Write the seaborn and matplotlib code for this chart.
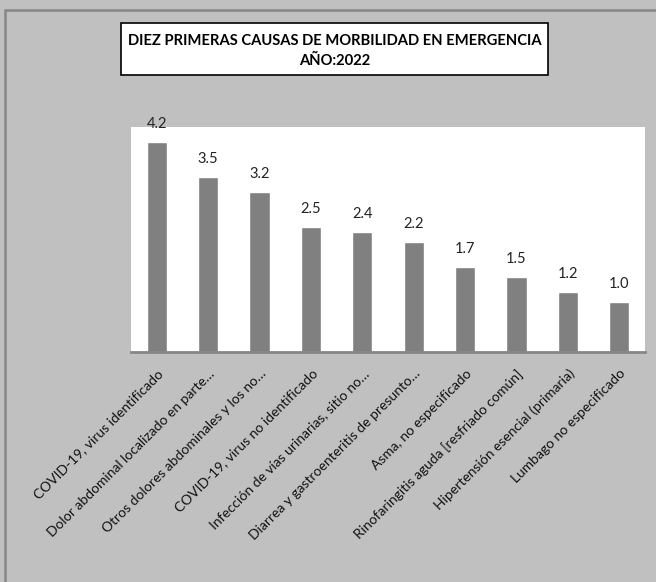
import matplotlib
matplotlib.use('Agg')
import matplotlib.pyplot as plt
import matplotlib.patches as patches
import seaborn as sns
import pandas as pd

# data
causas = [
    'COVID-19, virus identificado',
    'Dolor abdominal localizado en parte…',
    'Otros dolores abdominales y los no…',
    'COVID-19, virus no identificado',
    'Infección de vías urinarias, sitio no…',
    'Diarrea y gastroenteritis de presunto…',
    'Asma, no especificado',
    'Rinofaringitis aguda [resfriado común]',
    'Hipertensión esencial (primaria)',
    'Lumbago no especificado',
]
porcentajes = [4.2, 3.5, 3.2, 2.5, 2.4, 2.2, 1.7, 1.5, 1.2, 1.0]
titulo = 'DIEZ PRIMERAS CAUSAS DE MORBILIDAD EN EMERGENCIA\nAÑO:2022'

df = pd.DataFrame({'causa': causas, 'valor': porcentajes})

sns.set_style('white')
plt.rcParams['font.family'] = ['Lato', 'DejaVu Sans']

W, H = 656, 582
fig = plt.figure(figsize=(W / 100, H / 100), dpi=100, facecolor='#c0c0c0')

# outer frame (only top/left edges visible in the reference)
fig.patches.append(patches.Rectangle((5 / W, -0.1), 1.2, 1 - 10 / H + 0.1,
                                     transform=fig.transFigure, fill=False,
                                     edgecolor='#868686', linewidth=1.8))

ax = fig.add_axes([131 / W, 1 - 352 / H, (645 - 131) / W, (352 - 127) / H])
ax.set_facecolor('white')

sns.barplot(data=df, x='causa', y='valor', color='#808080', saturation=1,
            width=0.39, ax=ax)

ax.set_ylim(0, 4.5)
ax.set_xlim(-0.5, len(causas) - 0.5)
for c in ax.containers:
    ax.bar_label(c, fmt='%.1f', padding=8, fontsize=10.5, color='#222222')

for side in ['top', 'left', 'right']:
    ax.spines[side].set_visible(False)
ax.spines['bottom'].set_color('#868686')
ax.spines['bottom'].set_linewidth(2)
ax.set_yticks([])
ax.set_xlabel('')
ax.set_ylabel('')
ax.tick_params(axis='x', length=0, pad=11)
plt.setp(ax.get_xticklabels(), rotation=45, ha='right', rotation_mode='anchor',
         fontsize=10, color='#111111')

# title box
fig.patches.append(patches.Rectangle((121 / W, 1 - 75 / H), (548 - 121) / W, 52 / H,
                                     transform=fig.transFigure, facecolor='white',
                                     edgecolor='black', linewidth=1.2))
fig.text(335 / W, 1 - 51 / H, titulo, ha='center', va='center',
         fontsize=10.6, fontweight='bold', linespacing=1.45, color='black')

fig.savefig('out.png', dpi=100, facecolor=fig.get_facecolor())
